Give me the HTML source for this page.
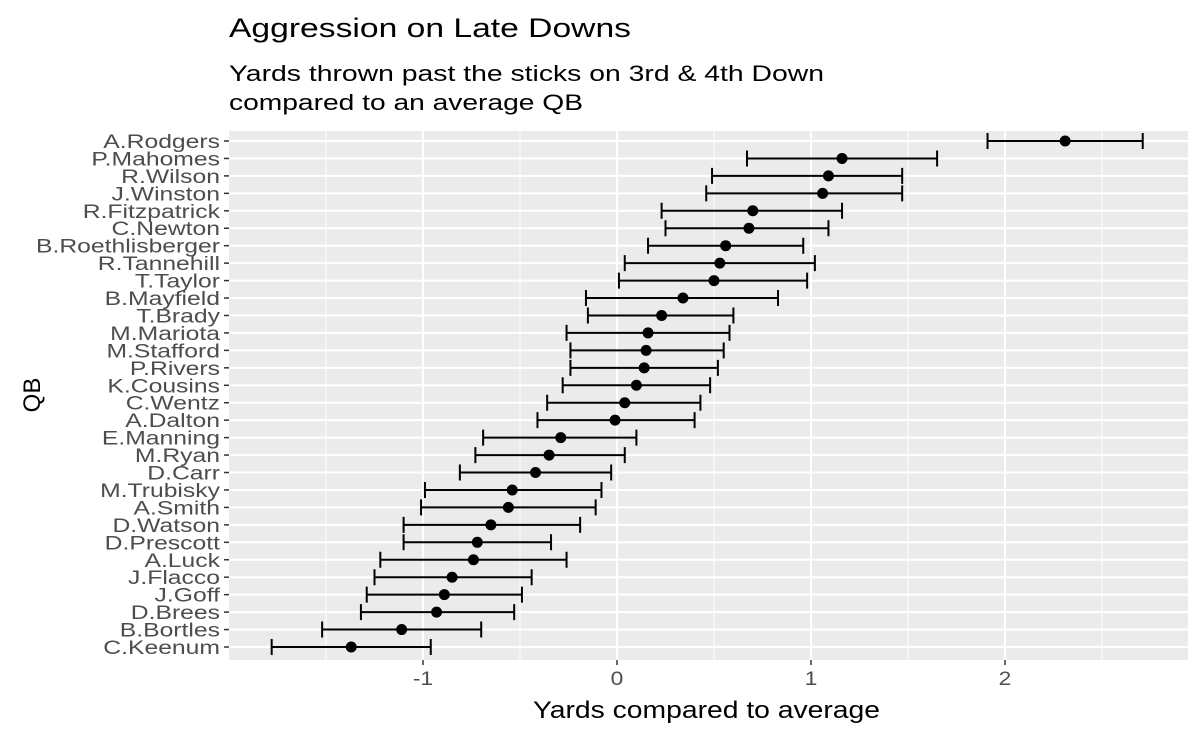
<!DOCTYPE html>
<html><head><meta charset="utf-8"><style>
body{margin:0;background:#fff;font-family:"Liberation Sans",sans-serif}
</style></head><body>
<svg width="1200" height="738" xmlns="http://www.w3.org/2000/svg" style="font-family:'Liberation Sans',sans-serif">
<text x="229" y="37" font-size="27" fill="#000" textLength="402" lengthAdjust="spacingAndGlyphs">Aggression on Late Downs</text>
<text x="229" y="81" font-size="22" fill="#000" textLength="595" lengthAdjust="spacingAndGlyphs">Yards thrown past the sticks on 3rd &amp; 4th Down</text>
<text x="229" y="110" font-size="22" fill="#000" textLength="354" lengthAdjust="spacingAndGlyphs">compared to an average QB</text>
<rect x="229" y="131" width="959" height="529" fill="#ebebeb"/>
<g id="grid"></g><g id="marks"></g><g id="axes"></g>
<text x="533" y="718" font-size="24" fill="#000" textLength="347" lengthAdjust="spacingAndGlyphs">Yards compared to average</text>
<text x="0" y="0" font-size="24" text-anchor="middle" fill="#000" transform="translate(40,395) rotate(-90)">QB</text>
</svg>
<script>
const qbs=["A.Rodgers","P.Mahomes","R.Wilson","J.Winston","R.Fitzpatrick","C.Newton","B.Roethlisberger","R.Tannehill","T.Taylor","B.Mayfield","T.Brady","M.Mariota","M.Stafford","P.Rivers","K.Cousins","C.Wentz","A.Dalton","E.Manning","M.Ryan","D.Carr","M.Trubisky","A.Smith","D.Watson","D.Prescott","A.Luck","J.Flacco","J.Goff","D.Brees","B.Bortles","C.Keenum"];
const est=[2.31,1.16,1.09,1.06,0.70,0.68,0.56,0.53,0.50,0.34,0.23,0.16,0.15,0.14,0.10,0.04,-0.01,-0.29,-0.35,-0.42,-0.54,-0.56,-0.65,-0.72,-0.74,-0.85,-0.89,-0.93,-1.11,-1.37];
const lower=[1.91,0.67,0.49,0.46,0.23,0.25,0.16,0.04,0.01,-0.16,-0.15,-0.26,-0.24,-0.24,-0.28,-0.36,-0.41,-0.69,-0.73,-0.81,-0.99,-1.01,-1.10,-1.10,-1.22,-1.25,-1.29,-1.32,-1.52,-1.78];
const upper=[2.71,1.65,1.47,1.47,1.16,1.09,0.96,1.02,0.98,0.83,0.60,0.58,0.55,0.52,0.48,0.43,0.40,0.10,0.04,-0.03,-0.08,-0.11,-0.19,-0.34,-0.26,-0.44,-0.49,-0.53,-0.70,-0.96];
const xTicks=[-1,0,1,2];
const xMinor=[-1.5,-0.5,0.5,1.5,2.5];
const NS="http://www.w3.org/2000/svg";
const X=v=>617+194*v;
const Y=i=>141+i*(647-141)/(qbs.length-1);
function mk(t,a,p){const e=document.createElementNS(NS,t);for(const k in a)e.setAttribute(k,a[k]);p.appendChild(e);return e;}
function stretch(el,k){const w=el.getComputedTextLength();el.setAttribute('textLength',w*k);el.setAttribute('lengthAdjust','spacingAndGlyphs');}
const grid=document.getElementById('grid'),marks=document.getElementById('marks'),axes=document.getElementById('axes');
xMinor.forEach(v=>{const l=mk('line',{x1:X(v),x2:X(v),y1:131,y2:660,stroke:'#fff','stroke-width':1},grid);

});
xTicks.forEach(v=>{const l=mk('line',{x1:X(v),x2:X(v),y1:131,y2:660,stroke:'#fff','stroke-width':2},grid);


const t=mk('line',{x1:X(v),x2:X(v),y1:660,y2:665,stroke:'#333','stroke-width':1.5},axes);


const tx=mk('text',{x:X(v),y:685,'font-size':19,'text-anchor':'middle',fill:'#4d4d4d'},axes);
tx.textContent=v;


stretch(tx,1.2);});
qbs.forEach((q,i)=>{const y=Y(i);
const g=mk('line',{x1:229,x2:1188,y1:y,y2:y,stroke:'#fff','stroke-width':2},grid);


const t=mk('line',{x1:224,x2:229,y1:y,y2:y,stroke:'#333','stroke-width':1.5},axes);


const tx=mk('text',{x:220,y:y+7,'font-size':19,'text-anchor':'end',fill:'#4d4d4d'},axes);
tx.textContent=q;


stretch(tx,1.3);
const eb=mk('path',{d:`M${X(lower[i])},${y}H${X(upper[i])}M${X(lower[i])},${y-8}V${y+8}M${X(upper[i])},${y-8}V${y+8}`,stroke:'#000','stroke-width':2,fill:'none'},marks);


const c=mk('circle',{cx:X(est[i]),cy:y,r:5.5,fill:'#000'},marks);

});
</script>
</body></html>
